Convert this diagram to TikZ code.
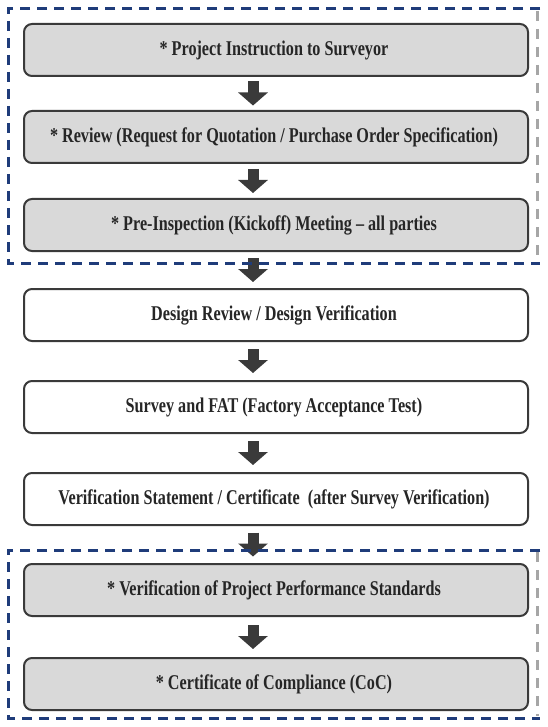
\documentclass[tikz,border=0pt]{standalone}
\usepackage{fontspec}
\setmainfont[FakeStretch=0.77]{Liberation Serif}
\usetikzlibrary{positioning,arrows.meta,calc}
\definecolor{boxgray}{HTML}{D9D9D9}
\definecolor{edgegray}{HTML}{3A3A3A}
\definecolor{groupblue}{HTML}{1F3C7A}
\definecolor{sidegray}{HTML}{A6A6A6}
\tikzset{
  stage box/.style = {
    shape = rectangle,
    align = center,
    draw  = edgegray,
    fill  = #1,
    line width = 2pt,
    minimum width = 504pt,
    minimum height = 52pt,
    rounded corners = 8pt,
    text = black!85,
    font = \fontsize{21}{24}\selectfont\bfseries},
  stage box/.default = boxgray,
  flow arrow/.style = {draw = edgegray, line width = 11pt, -{Triangle[width=29pt,length=13pt]}},
  group line/.style = {draw = groupblue, line width = 3pt, dash pattern = on 10pt off 7pt},
  side line/.style = {draw = sidegray, line width = 3pt, dash pattern = on 10pt off 8pt}
}
\begin{document}
\begin{tikzpicture}
  \useasboundingbox[fill = white] (0,0) rectangle (547pt,-727pt);
  \node[stage box] (instr) at (276pt,-50pt) { * Project Instruction to Surveyor };
  \node[stage box, below = 33pt of instr] (review) { * Review (Request for Quotation / Purchase Order Specification) };
  \node[stage box, below = 34pt of review] (kickoff) { * Pre-Inspection (Kickoff) Meeting -- all parties };
  \node[stage box = white, below = 36pt of kickoff] (design) { Design Review / Design Verification };
  \node[stage box = white, below = 38pt of design] (survey) { Survey and FAT (Factory Acceptance Test) };
  \node[stage box = white, below = 38pt of survey] (verif) { Verification Statement / Certificate\ \ (after Survey Verification) };
  \node[stage box, below = 37pt of verif] (perf) { * Verification of Project Performance Standards };
  \node[stage box, below = 40pt of perf] (coc) { * Certificate of Compliance (CoC) };
  \foreach \a/\b in {instr/review, review/kickoff, kickoff/design, design/survey, survey/verif, verif/perf, perf/coc}
    \draw[flow arrow] ($(\a.south)!0.5!(\b.north) + (-23pt,12pt)$) -- ++(0,-24pt);
  % dashed groups
  \draw[group line] ([xshift=11pt,yshift=14pt]instr.north east) -- ([xshift=-15pt,yshift=14pt]instr.north west)
    -- ([xshift=-15pt,yshift=-11pt]kickoff.south west) -- ([xshift=11pt,yshift=-11pt]kickoff.south east);
  \draw[side line] ([xshift=8pt,yshift=12pt]instr.north east) -- ([xshift=8pt,yshift=-9pt]kickoff.south east);
  \draw[group line] ([xshift=11pt,yshift=13pt]perf.north east) -- ([xshift=-15pt,yshift=13pt]perf.north west)
    -- ([xshift=-15pt,yshift=-7pt]coc.south west) -- ([xshift=11pt,yshift=-7pt]coc.south east);
  \draw[side line] ([xshift=8pt,yshift=11pt]perf.north east) -- ([xshift=8pt,yshift=-5pt]coc.south east);
\end{tikzpicture}
\end{document}
